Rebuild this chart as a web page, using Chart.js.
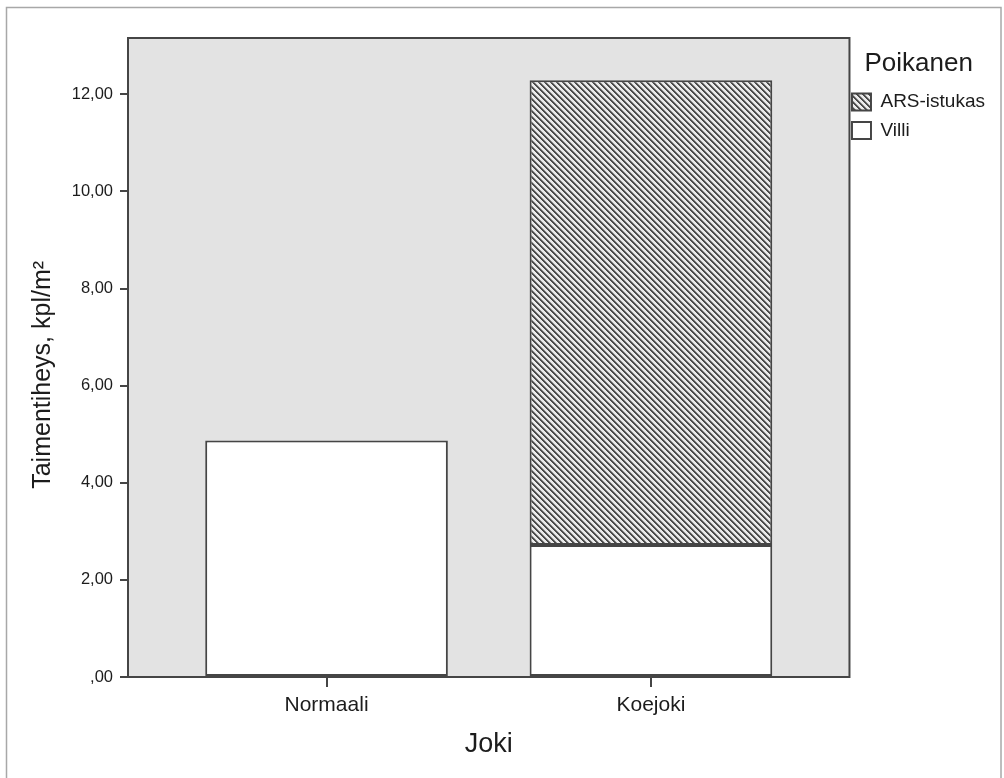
<!DOCTYPE html>
<html><head><meta charset="utf-8">
<script src="https://cdn.jsdelivr.net/npm/chart.js@4.4.1/dist/chart.umd.min.js"></script>
<style>html,body{margin:0;padding:0;background:#fff}</style>
</head><body>
<canvas id="c" width="1004" height="778"></canvas>
<script>
const categories = ['Normaali', 'Koejoki'];
const villi = [4.87, 2.72];
const arsIstukas = [null, 9.57];
const seriesNames = ['Villi', 'ARS-istukas'];
const yTicks = [0, 2, 4, 6, 8, 10, 12];
const yTickLabels = [',00', '2,00', '4,00', '6,00', '8,00', '10,00', '12,00'];
const yTitle = 'Taimentiheys, kpl/m\u00B2     ';
const xTitle = 'Joki';
const legendTitle = 'Poikanen';

const FONT = "'Liberation Sans', Arial, sans-serif";
const TXT = '#1c1c1c';
const LINE = '#454545';

function makeHatch() {
  const n = 6;
  const c = document.createElement('canvas');
  c.width = n; c.height = n;
  const g = c.getContext('2d');
  const img = g.createImageData(n, n);
  for (let y = 0; y < n; y++) {
    for (let x = 0; x < n; x++) {
      const d = (((x - y) % n) + n) % n;
      const v = d < 2 ? 75 : (d === 2 ? 150 : 235);
      const i = (y * n + x) * 4;
      img.data[i] = v; img.data[i + 1] = v; img.data[i + 2] = v; img.data[i + 3] = 255;
    }
  }
  g.putImageData(img, 0, 0);
  return document.getElementById('c').getContext('2d').createPattern(c, 'repeat');
}
const hatch = makeHatch();

const framePlugin = {
  id: 'frame',
  beforeDraw(chart) {
    const ctx = chart.ctx;
    ctx.save();
    ctx.strokeStyle = '#a8a8a8';
    ctx.lineWidth = 1.5;
    ctx.strokeRect(6.5, 7.5, 994.5, 790);
    ctx.restore();
  },
  beforeDatasetsDraw(chart) {
    const a = chart.chartArea, ctx = chart.ctx;
    ctx.save();
    ctx.fillStyle = '#e3e3e3';
    ctx.fillRect(a.left, a.top, a.right - a.left, a.bottom - a.top);
    ctx.restore();
  },
  afterDatasetsDraw(chart) {
    const a = chart.chartArea, ctx = chart.ctx;
    ctx.save();
    ctx.strokeStyle = LINE;
    ctx.lineWidth = 2;
    ctx.strokeRect(a.left, a.top, a.right - a.left, a.bottom - a.top);
    ctx.restore();
  },
  afterLayout(chart) {
    if (chart.legend) { chart.legend.left -= 7; chart.legend.right -= 7; }
  }
};

new Chart(document.getElementById('c'), {
  type: 'bar',
  data: {
    datasets: [
      {
        label: seriesNames[0],
        data: categories.map((c, i) => ({x: i, y: villi[i]})),
        backgroundColor: '#ffffff',
        borderColor: LINE,
        borderWidth: 2,
        borderSkipped: false,
        categoryPercentage: 1,
        barPercentage: 0.748
      },
      {
        label: seriesNames[1],
        data: categories.map((c, i) => ({x: i, y: arsIstukas[i]})),
        backgroundColor: hatch,
        borderColor: LINE,
        borderWidth: 2,
        borderSkipped: false,
        categoryPercentage: 1,
        barPercentage: 0.748
      }
    ]
  },
  options: {
    responsive: false,
    animation: false,
    events: [],
    layout: {padding: {left: 10, right: 2, top: 38, bottom: 17}},
    scales: {
      x: {
        type: 'linear',
        stacked: true,
        offset: false,
        min: -0.612,
        max: 1.612,
        afterBuildTicks: s => { s.ticks = categories.map((c, i) => ({value: i})); },
        afterFit: s => { s.height = 84; },
        grid: {offset: false, drawOnChartArea: false, drawTicks: true, tickLength: 10, color: LINE, lineWidth: 2},
        border: {display: false},
        ticks: {
          autoSkip: false,
          maxRotation: 0,
          padding: 6,
          color: TXT,
          font: {family: FONT, size: 21},
          callback: v => categories[v]
        },
        title: {display: true, text: xTitle, color: TXT, font: {family: FONT, size: 27}, padding: {top: 0, bottom: 0}}
      },
      y: {
        stacked: true,
        min: 0,
        max: 13.16,
        afterBuildTicks: s => { s.ticks = yTicks.map(v => ({value: v})); },
        afterFit: s => { s.width = 118; },
        grid: {drawOnChartArea: false, drawTicks: true, tickLength: 8, color: LINE, lineWidth: 2},
        border: {display: false},
        ticks: {
          padding: 7,
          color: TXT,
          font: {family: FONT, size: 16.5},
          callback: (v, i) => yTickLabels[i]
        },
        title: {display: true, text: yTitle, color: TXT, font: {family: FONT, size: 25}, padding: {top: 18.4, bottom: 0}}
      }
    },
    plugins: {
      tooltip: {enabled: false},
      legend: {
        position: 'right',
        align: 'start',
        reverse: true,
        title: {display: true, text: legendTitle, color: TXT, font: {family: FONT, size: 26}, padding: {top: 12.5, bottom: 1.3}},
        labels: {
          color: TXT,
          font: {family: FONT, size: 19},
          boxWidth: 19,
          boxHeight: 17,
          padding: 9.5
        }
      }
    }
  },
  plugins: [framePlugin]
});
</script>
</body></html>
